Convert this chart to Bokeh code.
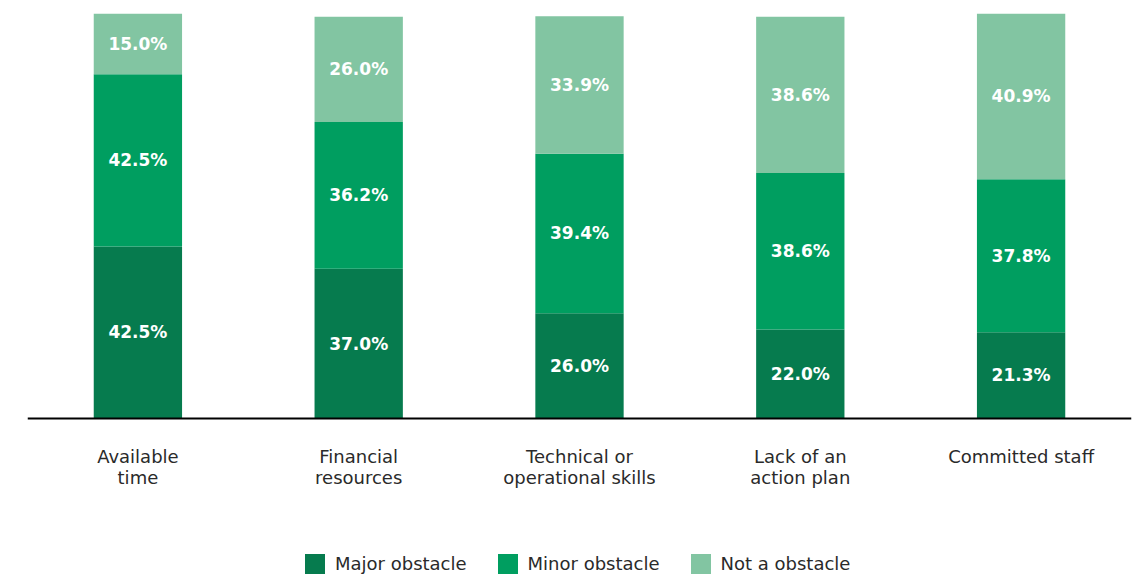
from bokeh.plotting import figure
from bokeh.models import ColumnDataSource, Legend, LegendItem, Range1d, FactorRange, Span
from bokeh.core.properties import value
from bokeh.embed import file_html
from bokeh.resources import INLINE

categories = ["Available time", "Financial resources", "Technical or operational skills",
              "Lack of an action plan", "Committed staff"]
tick_labels = [["Available", "time"], ["Financial", "resources"], ["Technical or", "operational skills"],
               ["Lack of an", "action plan"], ["Committed staff"]]
major = [42.5, 37.0, 26.0, 22.0, 21.3]
minor = [42.5, 36.2, 39.4, 38.6, 37.8]
not_obstacle = [15.0, 26.0, 33.9, 38.6, 40.9]
series_names = ["Major obstacle", "Minor obstacle", "Not a obstacle"]
colors = ["#067B4E", "#009E60", "#82C5A2"]

FONT = "DejaVu Sans"

# layout constants (pixels)
W, H = 1148, 576
TOP, LEFT, RIGHT = 13, 27, 17
PLOT_PX = 405                      # pixel height of the 0..100 range
FRAME_H = H - TOP
px_per_unit = PLOT_PX / 100.0
y_start = -(FRAME_H - PLOT_PX) / px_per_unit

source = ColumnDataSource(dict(cat=categories, major=major, minor=minor, not_obstacle=not_obstacle))

p = figure(x_range=FactorRange(*categories, range_padding=0), y_range=Range1d(y_start, 100),
           width=W, height=H, output_backend="svg", toolbar_location=None,
           x_axis_location=None, y_axis_location=None,
           min_border_left=LEFT, min_border_right=RIGHT, min_border_top=TOP, min_border_bottom=0)
p.outline_line_color = None
p.xgrid.visible = False
p.ygrid.visible = False

renderers = p.vbar_stack(["major", "minor", "not_obstacle"], x="cat", width=0.4,
                         color=colors, line_color=None, source=source)

# baseline
p.add_layout(Span(location=0, dimension="width", line_color="#000000", line_width=2))

# value labels
xs, ys, txt = [], [], []
for i, c in enumerate(categories):
    base = 0.0
    for vals in (major, minor, not_obstacle):
        v = vals[i]
        xs.append(c)
        ys.append(base + v / 2)
        txt.append(f"{v:.1f}%")
        base += v
p.text(x=xs, y=ys, text=txt, text_align="center", text_baseline="middle",
       text_color="white", text_font=value(FONT), text_font_style="bold",
       text_font_size="17px")

# category labels (one text per line)
LINE1_PX, LINE_GAP_PX = 38, 21
lx, ly, lt = [], [], []
for c, lines in zip(categories, tick_labels):
    for j, line in enumerate(lines):
        lx.append(c)
        ly.append(-(LINE1_PX + j * LINE_GAP_PX) / px_per_unit)
        lt.append(line)
p.text(x=lx, y=ly, text=lt, text_align="center", text_baseline="middle",
       text_color="#2a2a2a", text_font=value(FONT), text_font_size="18px")

legend = Legend(items=[LegendItem(label=n, renderers=[r]) for n, r in zip(series_names, renderers)],
                orientation="horizontal", location=(302 - LEFT, 0), glyph_width=25, glyph_height=25,
                label_standoff=8, spacing=28, label_text_font=FONT, label_text_font_size="18px",
                label_text_color="#2a2a2a", border_line_color=None, background_fill_alpha=0,
                padding=0, margin=0)
p.add_layout(legend)

open("out.html", "w").write(file_html(p, INLINE))
